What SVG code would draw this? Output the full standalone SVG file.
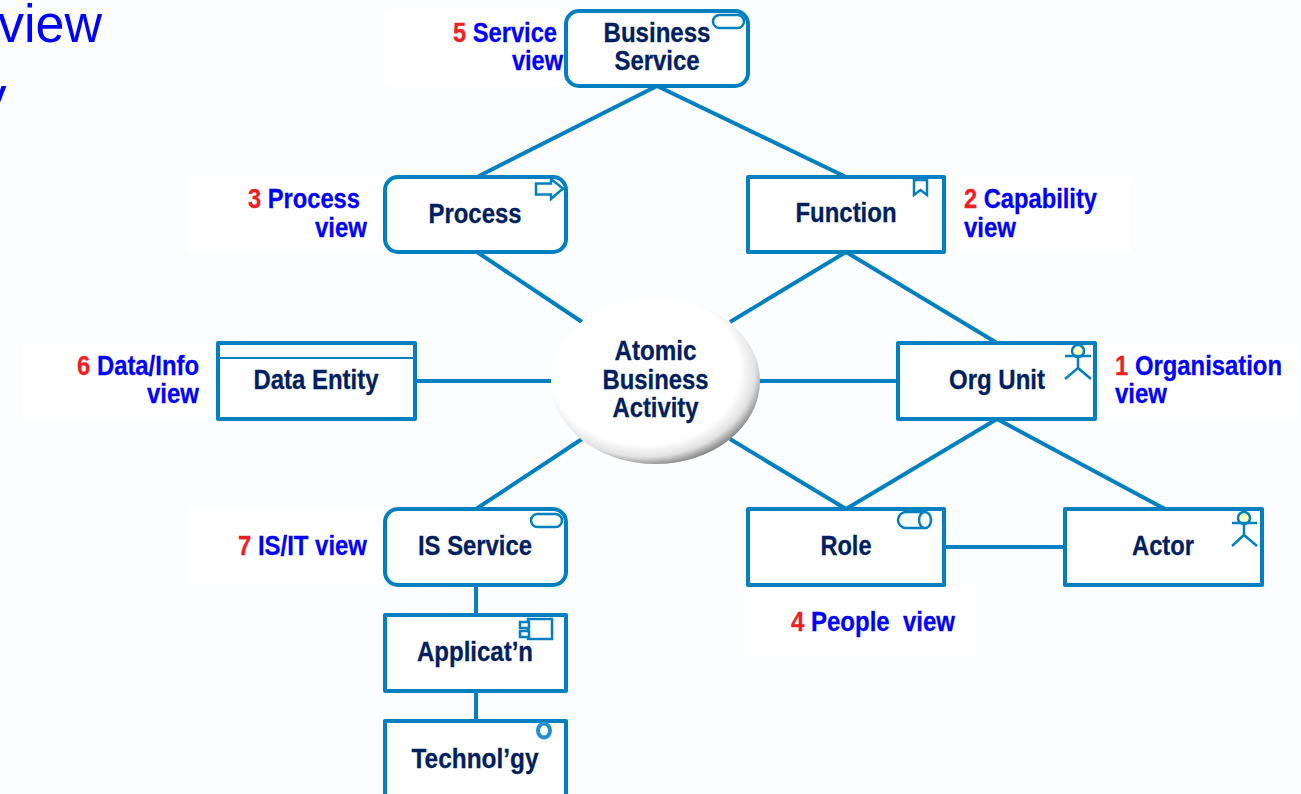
<svg xmlns="http://www.w3.org/2000/svg" width="1301" height="794" viewBox="0 0 1301 794">
<style>
text{font-family:"Liberation Sans",Arial,sans-serif;font-weight:bold;font-size:28px;white-space:pre}
.n{fill:#002060;stroke:#002060;stroke-width:.3;text-anchor:middle}
.l{fill:#0000ff;stroke:#0000ff;stroke-width:.3}
.r{fill:#ed2024;stroke:#ed2024;stroke-width:.3}
text.big{font-weight:normal;font-size:53px;fill:#0000ff;stroke:none}
.box{fill:#fff;stroke:#0080c0;stroke-width:4;stroke-linejoin:round}
.ic{fill:none;stroke:#0080c0;stroke-width:2.5}
.c line{stroke:#0080c0;stroke-width:4}
.p{fill:#fff}
</style>
<defs>
<radialGradient id="g" cx="0.45" cy="0.43" r="0.6">
<stop offset="0" stop-color="#fff"/><stop offset="0.76" stop-color="#fff"/><stop offset="0.88" stop-color="#e2e2e2"/><stop offset="1" stop-color="#6a6a6a"/>
</radialGradient>
</defs>
<rect width="1301" height="794" fill="#fbfdff"/>
<g id="patches">
<rect class="p" x="385" y="10" width="181" height="76"/>
<rect class="p" x="188" y="177" width="197" height="75"/>
<rect class="p" x="944" y="177" width="187" height="75"/>
<rect class="p" x="22" y="343" width="196" height="76"/>
<rect class="p" x="1095" y="343" width="203" height="76"/>
<rect class="p" x="188" y="509" width="197" height="76"/>
<rect class="p" x="746" y="585" width="229" height="72"/>
</g>
<g id="heading">
<text class="big" x="-2" y="42" textLength="104" lengthAdjust="spacingAndGlyphs">view</text>
<text class="big" x="-20" y="114">y</text>
</g>
<g id="connectors" class="c">
<line x1="657" y1="86" x2="477" y2="177"/>
<line x1="657" y1="86" x2="846" y2="177"/>
<line x1="477" y1="252" x2="582" y2="322"/>
<line x1="846" y1="252" x2="730" y2="322"/>
<line x1="846" y1="252" x2="997" y2="343"/>
<line x1="415" y1="381" x2="552" y2="381"/>
<line x1="759" y1="381" x2="898" y2="381"/>
<line x1="582" y1="439" x2="476" y2="509"/>
<line x1="730" y1="439" x2="846" y2="509"/>
<line x1="997" y1="419" x2="846" y2="509"/>
<line x1="997" y1="419" x2="1165" y2="509"/>
<line x1="944" y1="547" x2="1065" y2="547"/>
<line x1="476" y1="585" x2="476" y2="615"/>
<line x1="476" y1="691" x2="476" y2="721"/>
</g>
<g id="business-service">
<rect class="box" x="566" y="11" width="182" height="75" rx="13"/>
<rect class="ic" x="713" y="15" width="31" height="13" rx="6.500"/>
<text class="n" x="657" y="41.500" textLength="107" lengthAdjust="spacingAndGlyphs">Business</text>
<text class="n" x="657" y="69.500" textLength="85" lengthAdjust="spacingAndGlyphs">Service</text>
</g>
<g id="process">
<rect class="box" x="385" y="177" width="181" height="75" rx="13"/>
<path class="ic" d="M536 183.500H551V179L563 188.500L551 199V194.500H536Z"/>
<text class="n" x="475" y="222.500" textLength="93" lengthAdjust="spacingAndGlyphs">Process</text>
</g>
<g id="function">
<rect class="box" x="748" y="177" width="196" height="75"/>
<path class="ic" d="M914 180H927V195L920.500 190L914 195Z"/>
<text class="n" x="846" y="221.500" textLength="101" lengthAdjust="spacingAndGlyphs">Function</text>
</g>
<g id="data-entity">
<rect class="box" x="218" y="343" width="197" height="76"/>
<line x1="218" y1="358" x2="415" y2="358" stroke="#0080c0" stroke-width="2"/>
<text class="n" x="316" y="388.500" textLength="125" lengthAdjust="spacingAndGlyphs">Data Entity</text>
</g>
<g id="atomic-business-activity">
<ellipse cx="655.500" cy="381" rx="104.500" ry="83" fill="url(#g)"/>
<text class="n" x="655.500" y="359.500" textLength="82" lengthAdjust="spacingAndGlyphs">Atomic</text>
<text class="n" x="655.500" y="388.500" textLength="106" lengthAdjust="spacingAndGlyphs">Business</text>
<text class="n" x="655.500" y="416.500" textLength="86" lengthAdjust="spacingAndGlyphs">Activity</text>
</g>
<g id="org-unit">
<rect class="box" x="898" y="343" width="197" height="76"/>
<circle cx="1078" cy="351" r="6" fill="#ffffc0" stroke="#0080c0" stroke-width="2.500"/>
<path class="ic" d="M1065 356H1091M1078 357V368L1065 379M1078 368L1091 379"/>
<text class="n" x="997" y="388.500" textLength="96" lengthAdjust="spacingAndGlyphs">Org Unit</text>
</g>
<g id="is-service">
<rect class="box" x="385" y="509" width="181" height="76" rx="13"/>
<rect class="ic" x="531" y="514" width="31" height="13" rx="6.500"/>
<text class="n" x="475" y="554.500" textLength="114" lengthAdjust="spacingAndGlyphs">IS Service</text>
</g>
<g id="role">
<rect class="box" x="748" y="509" width="196" height="76"/>
<path class="ic" d="M925 512H906A8 8 0 0 0 906 528H925"/>
<ellipse class="ic" cx="925" cy="520" rx="6" ry="8"/>
<text class="n" x="846" y="554.500" textLength="51" lengthAdjust="spacingAndGlyphs">Role</text>
</g>
<g id="actor">
<rect class="box" x="1065" y="509" width="197" height="76"/>
<circle cx="1244" cy="518" r="6" fill="#ffffc0" stroke="#0080c0" stroke-width="2.500"/>
<path class="ic" d="M1232 523H1257M1244 524V535L1232 546M1244 535L1257 546"/>
<text class="n" x="1163" y="554.500" textLength="62" lengthAdjust="spacingAndGlyphs">Actor</text>
</g>
<g id="application">
<rect class="box" x="385" y="615" width="181" height="76"/>
<rect class="ic" x="528" y="619" width="24" height="20"/>
<rect x="520" y="622" width="9" height="6" fill="#fff" stroke="#0080c0" stroke-width="2.500"/>
<rect x="520" y="631" width="9" height="6" fill="#fff" stroke="#0080c0" stroke-width="2.500"/>
<text class="n" x="475" y="660.500" textLength="116" lengthAdjust="spacingAndGlyphs">Applicat’n</text>
</g>
<g id="technology">
<rect class="box" x="385" y="721" width="181" height="90"/>
<ellipse cx="544" cy="730.500" rx="6" ry="7" fill="#fff" stroke="#1e8fd0" stroke-width="4"/>
<text class="n" x="475" y="767.500" textLength="127" lengthAdjust="spacingAndGlyphs">Technol’gy</text>
</g>
<g id="view-labels">
<text class="l" x="453" y="41.500" textLength="104" lengthAdjust="spacingAndGlyphs"><tspan class="r">5</tspan> Service</text>
<text class="l" x="512" y="69.500" textLength="51" lengthAdjust="spacingAndGlyphs">view</text>
<text class="l" x="248" y="207.500" textLength="112" lengthAdjust="spacingAndGlyphs"><tspan class="r">3</tspan> Process</text>
<text class="l" x="315" y="236.500" textLength="52" lengthAdjust="spacingAndGlyphs">view</text>
<text class="l" x="964" y="207.500" textLength="133" lengthAdjust="spacingAndGlyphs"><tspan class="r">2</tspan> Capability</text>
<text class="l" x="964" y="236.500" textLength="52" lengthAdjust="spacingAndGlyphs">view</text>
<text class="l" x="77" y="374.500" textLength="122" lengthAdjust="spacingAndGlyphs"><tspan class="r">6</tspan> Data/Info</text>
<text class="l" x="147" y="402.500" textLength="52" lengthAdjust="spacingAndGlyphs">view</text>
<text class="l" x="1115" y="374.500" textLength="167" lengthAdjust="spacingAndGlyphs"><tspan class="r">1</tspan> Organisation</text>
<text class="l" x="1115" y="402.500" textLength="52" lengthAdjust="spacingAndGlyphs">view</text>
<text class="l" x="238" y="554.500" textLength="129" lengthAdjust="spacingAndGlyphs"><tspan class="r">7</tspan> IS/IT view</text>
<text class="l" x="791" y="630.500" textLength="164" lengthAdjust="spacingAndGlyphs"><tspan class="r">4</tspan> People  view</text>
</g>
</svg>
